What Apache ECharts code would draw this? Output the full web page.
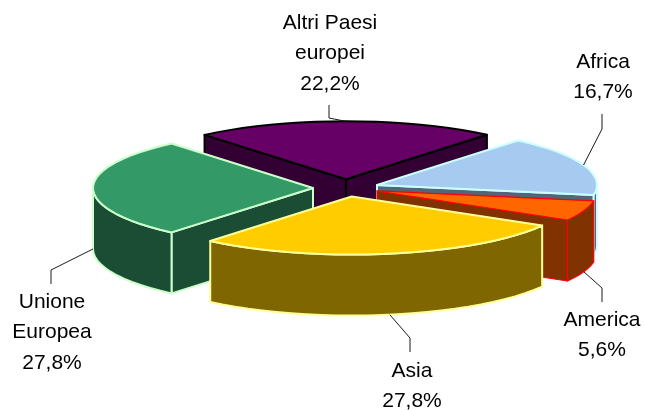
<!DOCTYPE html>
<html>
<head>
<meta charset="utf-8">
<style>
html, body { margin: 0; padding: 0; background: #fff; }
#chart { width: 645px; height: 410px; }
</style>
<script src="https://cdn.jsdelivr.net/npm/echarts@6/dist/echarts.min.js"></script>
</head>
<body>
<div id="chart"></div>
<script>
// clockwise from the back of the pie
const categories = ['Altri Paesi\neuropei', 'Africa', 'America', 'Asia', 'Unione\nEuropea'];
const values = [22.2, 16.7, 5.6, 27.8, 27.8];

const topColors = ['#660066', '#a6caf0', '#ff6600', '#ffcc00', '#339966'];
const wallColors = ['#330033', '#536578', '#803300', '#806600', '#1a4d33'];
const edgeColors = ['#000000', '#ccffff', '#ff0000', '#ffff99', '#ccffcc'];
const edgeWidths = [2, 2, 1.2, 2, 2];

// pie projection
const cx = 346, cy = 188, rx = 220, ry = 58, depth = 61, explode = 0.15;
const startAngle = -40;

// where each label sits: elbow of the leader line, label centre, first line middle
const labelPos = [
    { elbow: [329, 118], end: [329, 105], x: 330, y: 23 },
    { elbow: [602, 129], end: [602, 114], x: 603, y: 62 },
    { elbow: [602, 288], end: [602, 302], x: 602, y: 320 },
    { elbow: [410, 338], end: [410, 352], x: 412, y: 371 },
    { elbow: [51, 270], end: [51, 284], x: 52, y: 302 }
];
const lineHeight = 30.5;

const total = values.reduce((a, b) => a + b, 0);

function rad(d) { return d * Math.PI / 180; }

// point on the ellipse, angle clockwise from the top
function rim(c, a) {
    return [c[0] + rx * Math.sin(rad(a)), c[1] - ry * Math.cos(rad(a))];
}
function down(p) { return [p[0], p[1] + depth]; }

function fmt(v) { return v.toFixed(1).replace('.', ',') + '%'; }

function sliceAngles(i) {
    let a0 = startAngle;
    for (let k = 0; k < i; k++) a0 += values[k] / total * 360;
    return [a0, a0 + values[i] / total * 360];
}

function arc(c, from, to) {
    const pts = [];
    const n = Math.max(2, Math.ceil((to - from) / 4));
    for (let k = 0; k <= n; k++) pts.push(rim(c, from + (to - from) * k / n));
    return pts;
}

function renderItem(params, api) {
    const i = params.dataIndex;
    const [a0, a1] = sliceAngles(i);
    const mid = (a0 + a1) / 2;
    const apex = [
        cx + rx * explode * Math.sin(rad(mid)),
        cy - ry * explode * Math.cos(rad(mid))
    ];
    const base = Math.round((1 - Math.cos(rad(mid))) * 100);
    const children = [];
    const face = (pts, fill, z) => ({
        type: 'polygon',
        z2: base + z,
        shape: { points: pts },
        style: { fill: fill, stroke: edgeColors[i], lineWidth: edgeWidths[i], lineJoin: 'round' }
    });

    // radial walls, only those facing the viewer
    const midPt = rim(apex, mid);
    [a0, a1].forEach(a => {
        const p = rim(apex, a);
        const e = [p[0] - apex[0], p[1] - apex[1]];
        const crossMid = e[0] * (midPt[1] - apex[1]) - e[1] * (midPt[0] - apex[0]);
        const crossDown = e[0];
        if (crossMid * crossDown < 0) {
            children.push(face([apex, p, down(p), down(apex)], wallColors[i], 0));
        }
    });

    // outer wall between 90 and 270 degrees
    const f0 = Math.max(a0, 90), f1 = Math.min(a1, 270);
    if (f1 > f0) {
        const upper = arc(apex, f0, f1);
        children.push(face(upper.concat(upper.map(down).reverse()), wallColors[i], 1));
    }

    // top
    children.push(face([apex].concat(arc(apex, a0, a1)), topColors[i], 2));

    // leader line
    const pos = labelPos[i];
    const cosMid = Math.cos(rad(mid));
    const sinMid = Math.sin(rad(mid));
    let anchor = rim(apex, mid);
    if (cosMid < 0 || Math.abs(cosMid) < 0.01 && sinMid < 0) anchor = down(anchor);
    children.push({
        type: 'polyline',
        z2: 500,
        shape: { points: [anchor, pos.elbow, pos.end] },
        style: { fill: null, stroke: '#1a1a1a', lineWidth: 1 }
    });

    // label
    categories[i].split('\n').concat(fmt(values[i])).forEach((t, k) => {
        children.push({
            type: 'text',
            z2: 500,
            x: pos.x,
            y: pos.y + k * lineHeight,
            style: {
                text: t,
                fill: '#000',
                font: '21px "Liberation Sans", Arial, sans-serif',
                align: 'center',
                verticalAlign: 'middle'
            }
        });
    });

    return { type: 'group', children: children };
}

const chart = echarts.init(document.getElementById('chart'));
chart.setOption({
    backgroundColor: '#ffffff',
    animation: false,
    series: [{
        type: 'custom',
        coordinateSystem: 'none',
        silent: true,
        renderItem: renderItem,
        data: values
    }]
});
</script>
</body>
</html>
